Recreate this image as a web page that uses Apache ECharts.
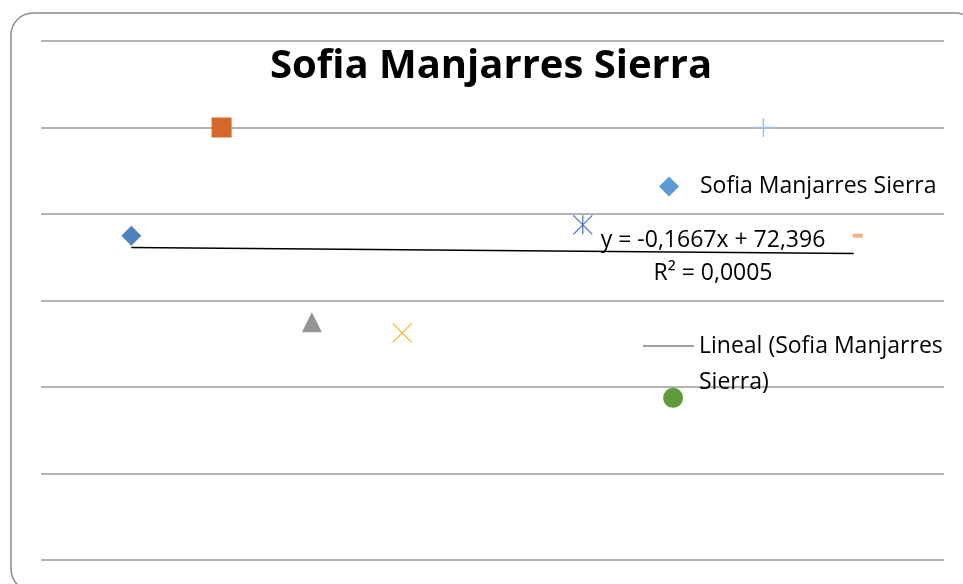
<!DOCTYPE html>
<html>
<head>
<meta charset="utf-8">
<title>Sofia Manjarres Sierra</title>
<script src="https://cdn.jsdelivr.net/npm/echarts@6.0.0/dist/echarts.min.js"></script>
<style>
  html, body { margin: 0; padding: 0; background: #fff; }
  #chart { width: 963px; height: 584px; }
</style>
</head>
<body>
<div id="chart"></div>
<script>
var chartTitle = 'Sofia Manjarres Sierra'
var trendName = 'Lineal (Sofia Manjarres Sierra)'

// x / y of each point
var xValues = [1, 2, 3, 4, 6, 7, 8, 9]
var yValues = [75, 100, 55, 52.5, 77.5, 37.5, 100, 75]

// one marker per point (Excel "vary colours by point")
var markerStyles = [
  { symbol: 'diamond', size: 20, color: '#4f81bd' },
  { symbol: 'rect', size: 20, color: '#d4692b' },
  { symbol: 'triangle', size: 20, color: '#959595' },
  { symbol: 'path://M0,0L10,10M10,0L0,10', size: 19, stroke: '#f0b41e' },
  { symbol: 'path://M0,0L10,10M10,0L0,10M5,0L5,10', size: 19, stroke: '#4472c4' },
  { symbol: 'circle', size: 20, color: '#5f9a3b' },
  { symbol: 'path://M5,0L5,10M0,5L10,5', size: 19, stroke: '#9dc3e6', width: 1.6 },
  { symbol: 'rect', size: [10, 4], color: '#f4b183', offset: [4, 0] }
]

// least squares line, like the Excel trendline
function linearFit(xs, ys) {
  var n = xs.length, mx = 0, my = 0
  for (var i = 0; i < n; i++) { mx += xs[i]; my += ys[i] }
  mx /= n; my /= n
  var sxy = 0, sxx = 0, syy = 0
  for (var i = 0; i < n; i++) {
    sxy += (xs[i] - mx) * (ys[i] - my)
    sxx += (xs[i] - mx) * (xs[i] - mx)
    syy += (ys[i] - my) * (ys[i] - my)
  }
  var slope = sxy / sxx
  return { slope: slope, intercept: my - slope * mx, r2: (sxy * sxy) / (sxx * syy) }
}

var fit = linearFit(xValues, yValues)
var xMin = Math.min.apply(null, xValues)
var xMax = Math.max.apply(null, xValues)
var comma = function (v, d) { return v.toFixed(d).replace('.', ',') }
var eqText = 'y = ' + comma(fit.slope, 4) + 'x + ' + comma(fit.intercept, 3)
var r2Text = 'R\u00b2 = ' + comma(fit.r2, 4)

var points = xValues.map(function (x, i) {
  var m = markerStyles[i]
  var item = { value: [x, yValues[i]], symbol: m.symbol, symbolSize: m.size }
  if (m.offset) item.symbolOffset = m.offset
  item.itemStyle = m.stroke
    ? { color: 'transparent', borderColor: m.stroke, borderWidth: m.width || 1.2, opacity: 1 }
    : { color: m.color, opacity: 1 }
  return item
})

var font = '"Open Sans", "Noto Sans", sans-serif'
var chart = echarts.init(document.getElementById('chart'))
chart.setOption({
  animation: false,
  title: {
    text: chartTitle,
    left: 491,
    top: 47,
    textAlign: 'center',
    padding: 0,
    textStyle: { fontFamily: font, fontSize: 40, fontWeight: 'bold', color: '#000' }
  },
  legend: [{
    data: [chartTitle],
    left: 659,
    top: 175,
    padding: 0,
    orient: 'vertical',
    itemWidth: 20,
    itemHeight: 20,
    icon: 'diamond',
    itemStyle: { color: '#5b9bd5', opacity: 1 },
    textStyle: { fontFamily: font, fontSize: 23, color: '#000', padding: [0, 0, 0, 16] }
  }, {
    data: [trendName],
    left: 643,
    top: 292,
    padding: 0,
    orient: 'vertical',
    itemWidth: 51,
    itemHeight: 1,
    icon: 'rect',
    itemStyle: { color: '#404040' },
    formatter: function () { return '\nLineal (Sofia Manjarres\nSierra)' },
    textStyle: { fontFamily: font, fontSize: 23, color: '#000', lineHeight: 36 }
  }],
  grid: { left: 41, right: 19, top: 41, bottom: 24 },
  xAxis: {
    type: 'value',
    min: 0,
    max: 10,
    axisLine: { show: false },
    axisTick: { show: false },
    axisLabel: { show: false },
    splitLine: { show: false }
  },
  yAxis: {
    type: 'value',
    min: 0,
    max: 120,
    interval: 20,
    axisLine: { show: false },
    axisTick: { show: false },
    axisLabel: { show: false },
    splitLine: { lineStyle: { color: '#9a9a9a', width: 1.5 } }
  },
  graphic: [{
    type: 'rect',
    shape: { x: 11, y: 13, width: 966, height: 578, r: 22 },
    style: { fill: 'none', stroke: '#8c8c8c', lineWidth: 1.5 },
    silent: true
  }, {
    type: 'text',
    x: 713,
    y: 240,
    z: 10,
    style: { text: eqText, font: '23px ' + font, fill: '#000', align: 'center', verticalAlign: 'middle' }
  }, {
    type: 'text',
    x: 713,
    y: 273,
    z: 10,
    style: { text: r2Text, font: '23px ' + font, fill: '#000', align: 'center', verticalAlign: 'middle' }
  }],
  series: [{
    name: trendName,
    type: 'line',
    symbol: 'none',
    z: 1,
    lineStyle: { color: '#000', width: 1.5 },
    data: [[xMin, fit.intercept + fit.slope * xMin], [xMax, fit.intercept + fit.slope * xMax]]
  }, {
    name: chartTitle,
    type: 'scatter',
    z: 3,
    itemStyle: { color: '#5b9bd5' },
    emphasis: { disabled: true },
    data: points
  }]
})
</script>
</body>
</html>
